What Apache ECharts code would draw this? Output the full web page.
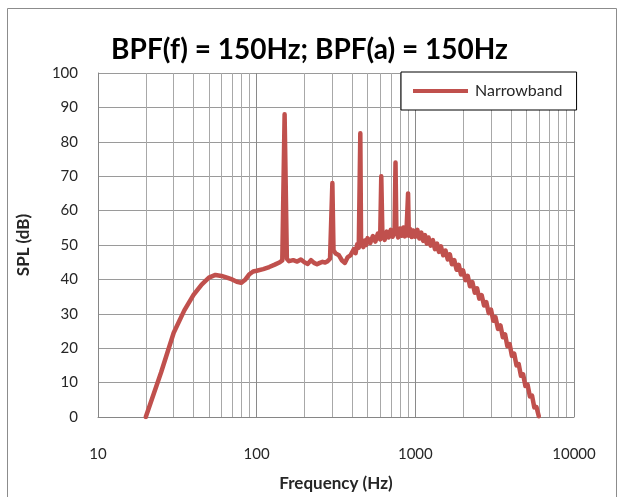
<!DOCTYPE html>
<html>
<head>
<meta charset="utf-8">
<script src="https://cdn.jsdelivr.net/npm/echarts@6/dist/echarts.min.js"></script>
<style>
  html, body { margin: 0; padding: 0; background: #fff; }
  #chart { width: 619px; height: 497px; }
</style>
</head>
<body>
<div id="chart"></div>
<script>
// frequency (Hz) and narrowband SPL (dB)
const freqs = [
  20, 25, 30, 35, 40, 45, 50, 55, 60, 65, 70, 75, 80, 85, 90, 95, 100, 110, 120, 130,
  140, 145, 150, 155, 160, 170, 180, 190, 200, 210, 220, 230, 240, 250, 260, 270, 280, 290,
  300, 305, 315, 330, 345, 360, 375, 390, 400, 410, 420, 430, 440, 450, 455, 470, 480, 490,
  500, 520, 540, 560, 580, 600, 610, 620, 640, 660, 680, 700, 720, 740, 750, 760, 780, 800,
  820, 840, 860, 880, 900, 910, 930, 950, 970, 1000, 1030, 1060, 1090, 1120, 1150, 1180,
  1210, 1250, 1290, 1330, 1370, 1410, 1450, 1500, 1550, 1600, 1650, 1700, 1760, 1820, 1880,
  1940, 2000, 2070, 2140, 2210, 2290, 2370, 2450, 2530, 2620, 2710, 2800, 2900, 3000, 3100,
  3200, 3320, 3440, 3560, 3680, 3800, 3930, 4060, 4200, 4340, 4480, 4630, 4780, 4940, 5100,
  5270, 5440, 5620, 5800, 6000
]
const spl = [
  0, 13, 24.5, 31, 35.5, 38.5, 40.5, 41.3, 41, 40.5, 40, 39.3, 39, 40, 41.5, 42.3, 42.5, 43, 43.6, 44.3,
  45, 45.5, 88, 46, 45.3, 45.6, 45.2, 45.8, 45, 44.5, 45.6, 44.8, 44.4, 44.8, 45.1, 44.9, 45.3, 46,
  68, 48.5, 47.5, 47, 45.5, 44.8, 46.5, 47, 46.5, 48.8, 47.6, 50.2, 49.2, 82.5, 50.8, 49.4, 51.3, 50,
  52, 50.6, 52.6, 51, 53.3, 51.6, 70, 53.4, 51.5, 53.9, 52.2, 54.4, 52.4, 54.6, 74, 53.8, 52.2, 54.8,
  52.7, 55.1, 52.5, 54.2, 65, 52.7, 54.6, 52.3, 54.2, 52.4, 54.4, 51.9, 53.6, 51.2, 52.9, 50.4,
  52.2, 49.8, 51.4, 48.8, 50.4, 48, 49.6, 47, 48.4, 45.8, 47.3, 44.4, 45.6, 42.8, 44.2,
  41.4, 42.6, 39.8, 41, 38, 39.2, 36.1, 37.4, 34.4, 35.4, 32.4, 33.4, 30.2, 31.2, 28,
  29, 25.6, 26.6, 23.2, 24, 20.6, 21.2, 17.8, 18.4, 15, 15.4, 12, 12.4, 9, 9.4,
  6, 6.2, 2.8, 2.9, 0.2
]
// minor vertical grid lines of the log axis
const minorTicks = [
  20, 30, 40, 50, 60, 70, 80, 90,
  200, 300, 400, 500, 600, 700, 800, 900,
  2000, 3000, 4000, 5000, 6000, 7000, 8000, 9000
]
const titleText = 'BPF(f) = 150Hz; BPF(a) = 150Hz'
const seriesName = 'Narrowband'

const font = 'Lato, "Liberation Sans", sans-serif'
const chart = echarts.init(document.getElementById('chart'), null, { renderer: 'canvas' })

const points = freqs.map((f, i) => [f, spl[i]])

const option = {
  animation: false,
  backgroundColor: '#fff',
  title: {
    text: titleText,
    left: 'center',
    top: 31,
    textStyle: { fontFamily: font, fontSize: 28, fontWeight: 'bold', color: '#000' }
  },
  legend: {
    data: [seriesName],
    left: 401,
    top: 72,
    padding: [11, 14, 11, 12],
    itemWidth: 55,
    itemHeight: 4,
    itemGap: 4,
    icon: 'rect',
    backgroundColor: '#fff',
    borderColor: '#000',
    borderWidth: 1,
    borderRadius: 0,
    textStyle: { fontFamily: font, fontSize: 16, color: '#262626', padding: [0, 0, 0, 2] }
  },
  grid: { left: 98, right: 45, top: 73, bottom: 79 },
  xAxis: {
    type: 'log',
    logBase: 10,
    min: 10,
    max: 10000,
    name: 'Frequency (Hz)',
    nameLocation: 'middle',
    nameGap: 58,
    nameTextStyle: { fontFamily: font, fontSize: 17, fontWeight: 'bold', color: '#262626' },
    axisLine: { lineStyle: { color: '#868686' } },
    axisTick: { show: false },
    axisLabel: {
      fontFamily: font, fontSize: 15, color: '#262626', margin: 30,
      formatter: v => String(Math.round(v))
    },
    splitLine: { show: true, lineStyle: { color: '#8a8a8a', width: 1 } }
  },
  yAxis: {
    type: 'value',
    min: 0,
    max: 100,
    interval: 10,
    name: 'SPL (dB)',
    nameLocation: 'middle',
    nameGap: 66,
    nameTextStyle: { fontFamily: font, fontSize: 17, fontWeight: 'bold', color: '#262626' },
    axisLine: { show: true, lineStyle: { color: '#868686' } },
    axisTick: { show: false },
    axisLabel: { fontFamily: font, fontSize: 15, color: '#262626', margin: 20 },
    splitLine: { show: true, lineStyle: { color: '#9a9a9a', width: 1 } }
  },
  graphic: [{
    type: 'rect',
    shape: { x: 7.5, y: 8.5, width: 609, height: 500 },
    style: { fill: 'none', stroke: '#8c8c8c', lineWidth: 1 },
    silent: true
  }],
  series: [{
    name: seriesName,
    type: 'line',
    data: points,
    showSymbol: false,
    symbol: 'none',
    color: '#C0504D',
    lineStyle: { color: '#C0504D', width: 4.5, join: 'round', cap: 'round' },
    z: 3,
    markLine: {
      silent: true,
      symbol: 'none',
      label: { show: false },
      lineStyle: { color: '#a8a8a8', width: 1, type: 'solid' },
      data: minorTicks.map(v => ({ xAxis: v })),
      z: 1
    }
  }]
}

chart.setOption(option)
</script>
</body>
</html>
